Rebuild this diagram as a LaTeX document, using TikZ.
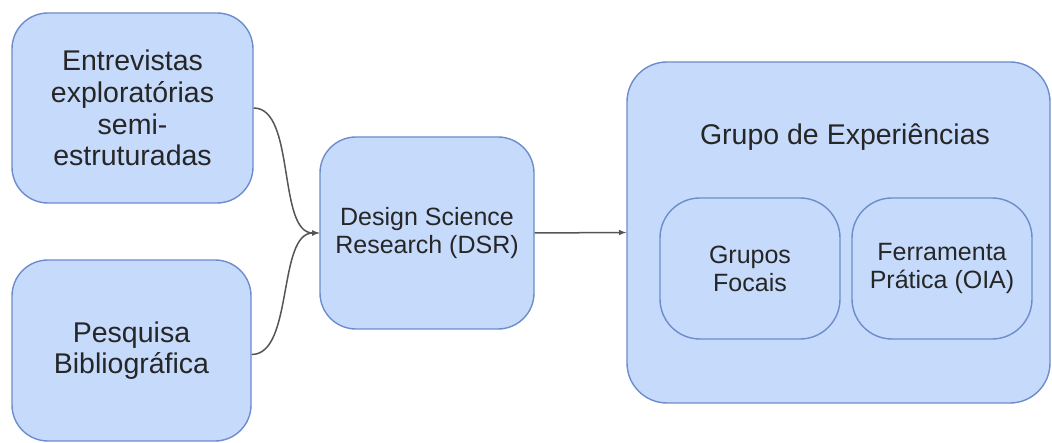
\documentclass[tikz,border=0pt]{standalone}
\usepackage{fontspec}
\setmainfont{Liberation Sans}
\usepackage{tikz}
\usetikzlibrary{positioning, arrows, calc}

\definecolor{boxfill}{HTML}{C6DAFB}
\definecolor{boxline}{HTML}{6C8CCB}
\definecolor{linkgray}{HTML}{555555}
\definecolor{txtgray}{HTML}{262626}

\begin{document}
\begin{tikzpicture}[x=1pt, y=1pt,
	block/.style={rectangle, rounded corners=36pt, draw=boxline, fill=boxfill, line width=1.4pt, text=txtgray, align=center, inner sep=0pt},
	bigtext/.style={font=\fontsize{28.5}{31.7}\selectfont},
	midtext/.style={font=\fontsize{25}{28}\selectfont},
	link/.style={draw=linkgray, line width=1.5pt}]
		
		\useasboundingbox (0,0) rectangle (1052,443);
		
		%Sources
		\node[block, bigtext, minimum width=241pt, minimum height=190pt] (entrev) at (132.5,335){Entrevistas\\exploratórias\\semi-\\estruturadas};
		\node[block, bigtext, minimum width=239pt, minimum height=181pt] (pesq) at (131.5,92.5){Pesquisa\\Bibliográfica};
		
		%Method
		\node[block, midtext, minimum width=214pt, minimum height=192pt] (dsr) at (427,210){Design Science\\Research (DSR)};
		
		%Experiences
		\node[block, rounded corners=40pt, minimum width=423pt, minimum height=341pt] (grupo) at (838.5,210.5){};
		\node[text=txtgray, bigtext, anchor=base] (titulo) at (845,298){Grupo de Experiências};
		\node[block, midtext, rounded corners=40pt, minimum width=180pt, minimum height=141pt] (focais) at (750,174.5){Grupos\\Focais};
		\node[block, midtext, rounded corners=40pt, minimum width=180pt, minimum height=141pt] (oia) at (942,174.5){Ferramenta\\Prática (OIA)};
		
		%Links
		\draw[link, -latex] (entrev.east) .. controls +(42,0) and +(-42,0) .. (dsr.west);
		\draw[link, -latex] ([yshift=-4pt]pesq.east) .. controls +(42,0) and +(-42,0) .. (dsr.west);
		\draw[link, -latex] (dsr.east) -- (grupo.west);
		
\end{tikzpicture}
\end{document}
